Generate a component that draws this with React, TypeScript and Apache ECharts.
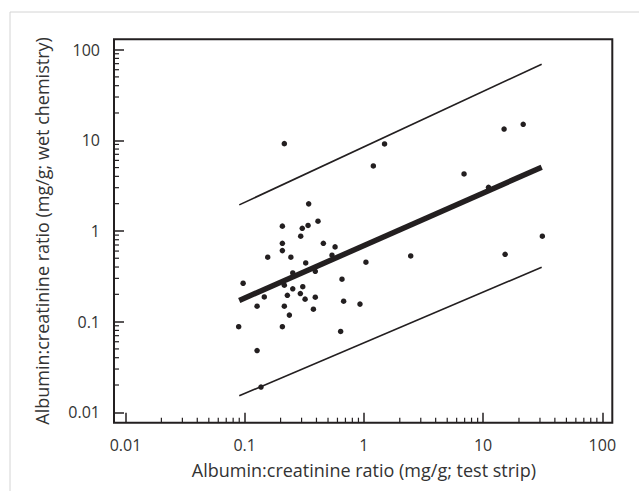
import React, { useEffect, useRef } from "react";
import * as echarts from "echarts";

// ---- data ----
const X_TICK_LABELS = ["0.01", "0.1", "1", "10", "100"];
const Y_TICK_LABELS = ["0.01", "0.1", "1", "10", "100"];
const DECADES = [0.01, 0.1, 1, 10];
const MINOR_MULTIPLES = [2, 3, 4, 5, 6, 7, 8, 9];

// test strip (x) values
const stripValues = [
  0.344, 0.207, 0.304, 0.34, 0.412, 0.295, 0.207, 0.457, 0.207, 0.573,
  0.156, 0.244, 0.54, 0.325, 1.04, 0.253, 0.391, 0.097, 0.655, 0.215,
  0.253, 0.307, 0.146, 0.228, 0.293, 0.391, 0.321, 0.676, 0.927, 0.127,
  0.215, 0.377, 0.237, 0.089, 0.207, 0.638, 0.127, 0.137,
  0.215, 1.2, 1.49, 6.92, 11.1, 15.0, 21.7, 15.3, 31.4, 2.47,
];
// wet chemistry (y) values
const wetValues = [
  1.99, 1.13, 1.07, 1.15, 1.28, 0.875, 0.731, 0.731, 0.607, 0.667,
  0.513, 0.513, 0.54, 0.444, 0.452, 0.344, 0.359, 0.265, 0.294, 0.252,
  0.23, 0.243, 0.187, 0.195, 0.204, 0.186, 0.177, 0.168, 0.156, 0.148,
  0.148, 0.137, 0.118, 0.088, 0.088, 0.078, 0.048, 0.019,
  9.18, 5.21, 9.1, 4.25, 3.03, 13.3, 15.0, 0.553, 0.875, 0.53,
];

// regression line and limits (endpoints)
const lineX = [0.09, 31.0];
const fitY = [0.171, 5.04];
const upperY = [1.94, 68.9];
const lowerY = [0.0152, 0.398];

// ---- layout ----
const W = 639;
const H = 491;
const GRID_LEFT = 125.5;
const GRID_RIGHT = 36.7;
const GRID_TOP = 49.6;
const GRID_BOTTOM = 78.7;
const Y_OFFSET = 11.5;
const X_OFFSET = 10.4;
const FRAME_TOP_PAD = 10.3;
const FRAME_RIGHT_PAD = 10;
const MAJOR_LEN = 10;
const MINOR_LEN = 5;
const INK = "#231f20";
const TEXT = "#333333";
const FONT = "Open Sans";

export default function App() {
  const ref = useRef<HTMLDivElement>(null);

  useEffect(() => {
    document.body.style.margin = "0";
    const chart = echarts.init(ref.current!, null, { renderer: "svg" });

    const minorVals: number[] = [];
    DECADES.forEach((d) => MINOR_MULTIPLES.forEach((m) => minorVals.push(+(d * m).toPrecision(3))));

    const pts = stripValues.map((x, i) => [x, wetValues[i]]);
    const mk = (ys: number[]) => lineX.map((x, i) => [x, ys[i]]);

    const labelFmt = (labels: string[]) => (v: number) => {
      const idx = Math.round(Math.log10(v)) + 2;
      return labels[idx] ?? "";
    };

    const frameX = GRID_LEFT - Y_OFFSET;
    const frameY = GRID_TOP - FRAME_TOP_PAD;
    const frameW = W - GRID_RIGHT + FRAME_RIGHT_PAD - frameX;
    const frameH = H - GRID_BOTTOM + X_OFFSET - frameY;

    chart.setOption({
      animation: false,
      backgroundColor: "#ffffff",
      grid: {
        left: GRID_LEFT,
        right: GRID_RIGHT,
        top: GRID_TOP,
        bottom: GRID_BOTTOM,
        outerBoundsMode: "none",
      },
      xAxis: {
        type: "log",
        logBase: 10,
        min: 0.01,
        max: 100,
        offset: X_OFFSET,
        name: "Albumin:creatinine ratio (mg/g; test strip)",
        nameLocation: "middle",
        nameGap: 38,
        nameTextStyle: { fontFamily: FONT, fontSize: 18, color: TEXT },
        axisLine: { show: false },
        axisTick: { show: true, inside: true, length: MAJOR_LEN, lineStyle: { color: INK, width: 1.5 } },
        axisLabel: {
          margin: 14,
          fontFamily: FONT,
          fontSize: 16,
          color: TEXT,
          formatter: labelFmt(X_TICK_LABELS),
        },
        splitLine: { show: false },
      },
      yAxis: {
        type: "log",
        logBase: 10,
        min: 0.01,
        max: 100,
        offset: Y_OFFSET,
        name: "Albumin:creatinine ratio (mg/g; wet chemistry)",
        nameLocation: "middle",
        nameGap: 63,
        nameTextStyle: { fontFamily: FONT, fontSize: 18, color: TEXT },
        axisLine: { show: false },
        axisTick: { show: true, inside: true, length: MAJOR_LEN, lineStyle: { color: INK, width: 1.5 } },
        axisLabel: {
          margin: 14,
          fontFamily: FONT,
          fontSize: 16,
          color: TEXT,
          formatter: labelFmt(Y_TICK_LABELS),
        },
        splitLine: { show: false },
      },
      graphic: [
        {
          type: "rect",
          shape: { x: 10, y: 12, width: 1000, height: 1000 },
          style: { fill: "none", stroke: "#d4d4d4", lineWidth: 1 },
          z: -10,
        },
        {
          type: "rect",
          shape: { x: frameX, y: frameY, width: frameW, height: frameH },
          style: { fill: "none", stroke: INK, lineWidth: 2 },
          z: 10,
        },
      ],
      series: [
        {
          type: "custom",
          name: "xMinor",
          silent: true,
          clip: false,
          data: minorVals.map((v) => [v, 1]),
          renderItem: (params: any, api: any) => {
            const p = api.coord([api.value(0), 1]);
            const cs = params.coordSys;
            const yb = cs.y + cs.height + X_OFFSET;
            return {
              type: "line",
              shape: { x1: p[0], y1: yb, x2: p[0], y2: yb - MINOR_LEN },
              style: { stroke: INK, lineWidth: 1.2 },
            };
          },
        },
        {
          type: "custom",
          name: "yMinor",
          silent: true,
          clip: false,
          data: minorVals.map((v) => [1, v]),
          renderItem: (params: any, api: any) => {
            const p = api.coord([1, api.value(1)]);
            const cs = params.coordSys;
            const xl = cs.x - Y_OFFSET;
            return {
              type: "line",
              shape: { x1: xl, y1: p[1], x2: xl + MINOR_LEN, y2: p[1] },
              style: { stroke: INK, lineWidth: 1.2 },
            };
          },
        },
        {
          type: "line",
          data: mk(upperY),
          symbol: "none",
          lineStyle: { color: INK, width: 1.6 },
        },
        {
          type: "line",
          data: mk(lowerY),
          symbol: "none",
          lineStyle: { color: INK, width: 1.6 },
        },
        {
          type: "line",
          data: mk(fitY),
          symbol: "none",
          lineStyle: { color: INK, width: 5.5 },
        },
        {
          type: "scatter",
          data: pts,
          symbol: "circle",
          symbolSize: 5.5,
          itemStyle: { color: INK, opacity: 1 },
        },
      ],
    });

    return () => chart.dispose();
  }, []);

  return (
    <div
      ref={ref}
      style={{ position: "fixed", left: 0, top: 0, width: W, height: H, background: "#fff" }}
    />
  );
}
